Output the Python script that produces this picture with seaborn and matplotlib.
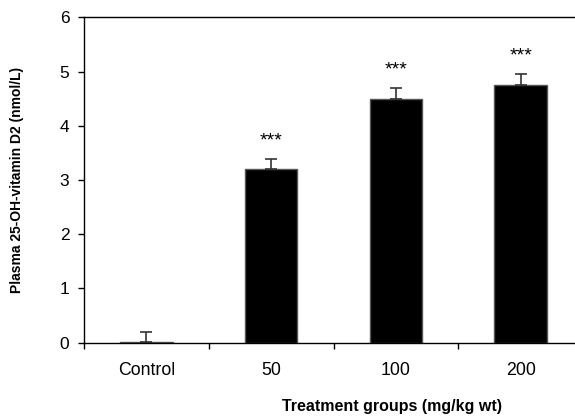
import pandas as pd
import matplotlib.pyplot as plt
import seaborn as sns
from matplotlib.ticker import FixedLocator

# Data
groups = ['Control', '50', '100', '200']
means = [0.02, 3.20, 4.50, 4.75]
errors = [0.18, 0.19, 0.20, 0.20]
stars = ['', '***', '***', '***']

df = pd.DataFrame({'group': groups, 'mean': means})

sns.set_style("ticks")
plt.rcParams['font.family'] = ['Liberation Sans', 'DejaVu Sans']
plt.rcParams['text.color'] = 'black'
plt.rcParams['axes.labelcolor'] = 'black'
plt.rcParams['xtick.color'] = 'black'
plt.rcParams['ytick.color'] = 'black'

fig = plt.figure(figsize=(5.75, 4.18), dpi=100)
ax = fig.add_axes([0.1461, 0.1801, 0.8678, 0.7785])

sns.barplot(data=df, x='group', y='mean', color='black', width=0.42,
            edgecolor='#555555', linewidth=1.0, errorbar=None, ax=ax, saturation=1)

# one-sided (upper) error bars
ax.errorbar(range(len(groups)), means, yerr=[[0] * len(errors), errors],
            fmt='none', ecolor='#333333', elinewidth=1.2, capsize=4, capthick=1.2)

# significance markers
for i, (m, e, s) in enumerate(zip(means, errors, stars)):
    if s:
        ax.text(i, m + e + 0.25, s, ha='center', va='baseline', fontsize=14)

ax.set_xlim(-0.5, 3.5)
ax.set_ylim(0, 6)
ax.set_yticks(range(0, 7))

# category ticks sit between bars
ax.tick_params(axis='x', which='major', length=0, pad=14, labelsize=12.8)
ax.xaxis.set_minor_locator(FixedLocator([-0.5, 0.5, 1.5, 2.5, 3.5]))
ax.tick_params(axis='x', which='minor', length=4.5, width=1, direction='out')
ax.tick_params(axis='y', length=4.5, width=1, pad=6, labelsize=12.5)

for side in ['left', 'bottom', 'top']:
    ax.spines[side].set_color('black')
    ax.spines[side].set_linewidth(1.0)
ax.spines['right'].set_visible(False)

ax.set_xlabel('Treatment groups (mg/kg wt)', fontsize=11.5, fontweight='bold')
ax.xaxis.set_label_coords(0.617, -0.172)
ax.set_ylabel('Plasma 25-OH-vitamin D2 (nmol/L)', fontsize=10, fontweight='bold')
ax.yaxis.set_label_coords(-0.12, 0.5)

fig.savefig('out.png', dpi=100)
